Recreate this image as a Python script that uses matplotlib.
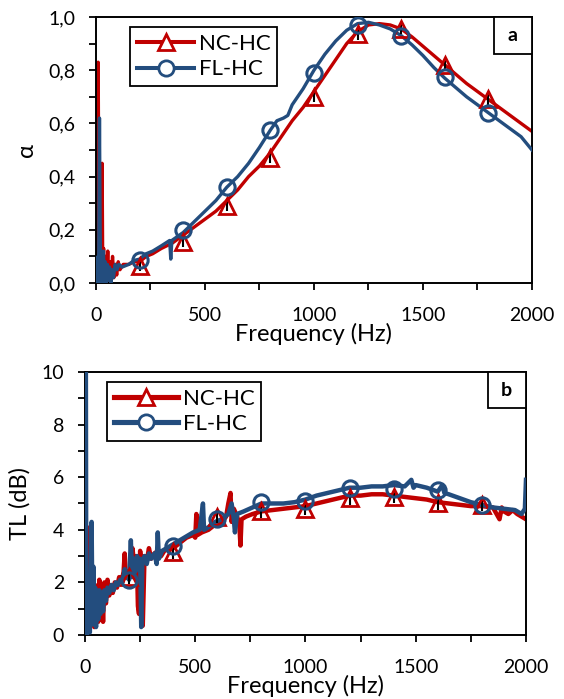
import matplotlib
matplotlib.use("Agg")
import matplotlib.pyplot as plt
from matplotlib.lines import Line2D
from matplotlib.patches import Rectangle
from matplotlib.ticker import MultipleLocator, FuncFormatter

plt.rcParams['font.family'] = ['Lato', 'DejaVu Sans']

ROJO = '#C00000'
AZUL = '#234D7E'

# --- (a) coeficiente de absorcion ---
f_nc_a = [0, 6, 10, 13, 16, 20, 24, 28, 31, 35, 39, 44, 49, 54, 59, 64, 70, 76, 82, 88,
          95, 102, 110, 125, 150, 175, 200, 230, 260, 300, 350, 400, 450, 500, 550, 600,
          650, 700, 750, 800, 850, 900, 950, 1000, 1050, 1100, 1150, 1200, 1250, 1300,
          1350, 1400, 1450, 1500, 1550, 1600, 1650, 1700, 1750, 1800, 1850, 1900, 1950, 2000]
alfa_nc = [0.0, 0.05, 0.83, 0.3, 0.0, 0.1, 0.02, 0.45, 0.05, 0.13, 0.0, 0.1, 0.02, 0.12, 0.0,
           0.08, 0.03, 0.1, 0.02, 0.07, 0.03, 0.08, 0.05, 0.07, 0.07, 0.08, 0.08, 0.1, 0.11,
           0.13, 0.15, 0.18, 0.21, 0.24, 0.27, 0.31, 0.35, 0.40, 0.44, 0.49, 0.55, 0.61,
           0.66, 0.72, 0.78, 0.84, 0.90, 0.945, 0.97, 0.975, 0.97, 0.955, 0.925, 0.89,
           0.855, 0.82, 0.785, 0.75, 0.72, 0.69, 0.66, 0.63, 0.60, 0.57]

f_fl_a = [0, 5, 9, 12, 16, 19, 22, 26, 30, 34, 38, 42, 47, 52, 57, 62, 68, 74, 80, 88, 96,
          105, 120, 150, 175, 200, 230, 260, 300, 338, 343, 348, 400, 450, 500, 550, 600,
          650, 700, 750, 800, 830, 860, 880, 900, 950, 1000, 1050, 1100, 1150, 1200, 1250,
          1300, 1350, 1400, 1450, 1500, 1550, 1600, 1650, 1700, 1750, 1800, 1850, 1900,
          1950, 2000]
alfa_fl = [0.05, 0.0, 0.1, 0.0, 0.62, 0.2, 0.0, 0.1, 0.0, 0.12, 0.02, 0.08, 0.0, 0.07, 0.01,
           0.06, 0.0, 0.05, 0.02, 0.07, 0.05, 0.07, 0.06, 0.07, 0.085, 0.09, 0.11, 0.12,
           0.14, 0.16, 0.09, 0.16, 0.19, 0.23, 0.27, 0.31, 0.36, 0.40, 0.45, 0.51, 0.575,
           0.61, 0.62, 0.63, 0.67, 0.73, 0.80, 0.86, 0.91, 0.95, 0.975, 0.98, 0.97, 0.955,
           0.93, 0.895, 0.855, 0.81, 0.77, 0.735, 0.70, 0.67, 0.64, 0.61, 0.58, 0.55, 0.50]

f_marc = [200, 400, 600, 800, 1000, 1200, 1400, 1600, 1800]
alfa_nc_marc = [0.065, 0.155, 0.29, 0.47, 0.70, 0.935, 0.955, 0.82, 0.69]
alfa_fl_marc = [0.085, 0.20, 0.36, 0.575, 0.79, 0.97, 0.93, 0.775, 0.64]
err_a = [0.02] * 9

# --- (b) perdida de transmision ---
f_nc_b = [0, 5, 10, 14, 18, 22, 26, 30, 34, 38, 42, 46, 50, 55, 60, 65, 70, 76, 82, 88, 95,
          102, 110, 118, 126, 135, 145, 155, 165, 175, 180, 185, 195, 205, 215, 225, 235,
          240, 245, 250, 255, 262, 270, 280, 290, 300, 315, 330, 345, 360, 380, 400, 430,
          460, 490, 500, 505, 510, 530, 560, 590, 620, 640, 650, 660, 665, 675, 690, 700,
          705, 710, 730, 760, 800, 850, 900, 950, 1000, 1050, 1100, 1150, 1200, 1250, 1300,
          1350, 1400, 1450, 1500, 1550, 1600, 1650, 1700, 1750, 1800, 1850, 1880, 1890,
          1900, 1920, 1940, 1960, 1980, 2000]
tl_nc = [0.0, 0.3, 1.5, 0.2, 2.0, 4.1, 0.4, 1.8, 0.5, 1.6, 0.3, 1.9, 0.6, 1.5, 0.5, 2.1, 0.9,
         1.8, 0.5, 2.0, 1.2, 2.1, 1.5, 1.9, 1.6, 2.0, 1.8, 2.2, 2.0, 2.4, 3.1, 2.2, 2.3, 2.5,
         3.3, 2.6, 3.0, 1.1, 0.8, 3.2, 2.8, 0.35, 3.0, 2.8, 3.3, 2.9, 3.1, 3.2, 3.0, 3.2, 3.3,
         3.3, 3.5, 3.7, 3.8, 3.7, 4.6, 3.8, 3.9, 4.0, 4.2, 4.3, 4.5, 5.0, 5.4, 4.3, 4.8, 4.5,
         4.2, 3.4, 4.4, 4.5, 4.6, 4.7, 4.75, 4.8, 4.85, 4.9, 5.0, 5.1, 5.2, 5.3, 5.3, 5.35,
         5.35, 5.3, 5.25, 5.2, 5.15, 5.05, 5.0, 4.95, 4.9, 4.9, 4.85, 4.4, 4.85, 4.7, 4.6,
         4.75, 4.6, 4.5, 4.4]

f_fl_b = [0, 4, 6, 10, 14, 18, 22, 26, 30, 34, 38, 42, 46, 50, 55, 60, 65, 70, 76, 82, 88,
          95, 102, 110, 120, 130, 140, 150, 160, 170, 180, 190, 200, 208, 214, 220, 228, 236,
          244, 250, 255, 260, 270, 280, 290, 300, 315, 325, 330, 335, 350, 370, 400, 430,
          460, 490, 520, 535, 540, 560, 590, 620, 650, 665, 675, 680, 690, 720, 760, 800,
          850, 900, 950, 1000, 1050, 1100, 1150, 1200, 1250, 1300, 1350, 1400, 1450, 1480,
          1490, 1500, 1550, 1600, 1620, 1630, 1650, 1700, 1750, 1800, 1850, 1900, 1950,
          1980, 1995, 2000]
tl_fl = [10.0, 10.0, 0.0, 2.0, 0.3, 1.5, 0.1, 2.5, 4.3, 0.4, 2.6, 0.5, 1.8, 0.3, 1.4, 0.6,
         1.7, 0.8, 1.5, 0.9, 1.7, 1.3, 1.8, 1.6, 1.9, 1.7, 2.0, 1.9, 2.1, 2.0, 2.5, 2.2, 2.1,
         3.6, 2.2, 2.9, 2.4, 3.0, 2.5, 2.9, 0.3, 2.8, 3.0, 2.7, 3.1, 2.9, 3.1, 2.7, 3.9, 2.9,
         3.2, 3.3, 3.45, 3.6, 3.75, 3.9, 4.0, 5.0, 4.0, 4.1, 4.3, 4.4, 4.6, 5.0, 4.4, 3.9,
         4.6, 4.7, 4.85, 5.0, 5.0, 5.0, 5.05, 5.15, 5.3, 5.4, 5.5, 5.6, 5.6, 5.65, 5.65, 5.7,
         5.65, 5.9, 5.6, 5.7, 5.6, 5.45, 5.7, 5.4, 5.35, 5.2, 5.05, 4.95, 4.85, 4.8, 4.75,
         4.6, 4.8, 5.9]

tl_nc_marc = [2.2, 3.15, 4.5, 4.7, 4.8, 5.2, 5.25, 5.0, 4.95]
tl_fl_marc = [2.1, 3.4, 4.4, 5.05, 5.1, 5.6, 5.55, 5.5, 4.95]
err_b = [0.25] * 9


def panel(ax, f1, y1, f2, y2, y1m, y2m, err, lw, etiqueta):
    ax.plot(f1, y1, color=ROJO, lw=lw, zorder=2)
    ax.plot(f2, y2, color=AZUL, lw=lw, zorder=3)
    ax.errorbar(f_marc, y1m, yerr=err, fmt='none', ecolor='black', elinewidth=1.5, zorder=4)
    ax.plot(f_marc, y1m, ls='none', marker='^', ms=11, mfc='none', mec=ROJO, mew=2, zorder=5)
    ax.plot(f_marc, y2m, ls='none', marker='o', ms=11, mfc='none', mec=AZUL, mew=2.2, zorder=5)

    ax.set_xlim(0, 2000)
    ax.xaxis.set_major_locator(MultipleLocator(500))
    ax.xaxis.set_minor_locator(MultipleLocator(250))
    ax.tick_params(which='both', direction='out', width=1.3, length=5, labelsize=14)
    ax.tick_params(axis='x', pad=12)
    ax.tick_params(axis='y', pad=10)
    for s in ax.spines.values():
        s.set_linewidth(1.4)
    ax.set_xlabel('Frequency (Hz)', fontsize=17, labelpad=-0.5)

    # recuadro con la letra del panel
    ax.add_patch(Rectangle((0.913, 0.862), 0.087, 0.138, transform=ax.transAxes,
                           fill=True, facecolor='white', edgecolor='black', lw=1.3,
                           zorder=6, clip_on=False))
    ax.text(0.956, 0.931, etiqueta, transform=ax.transAxes, ha='center', va='center',
            fontsize=14, fontweight='bold', zorder=7)

    handles = [Line2D([], [], color=ROJO, lw=lw + 0.5, marker='^', ms=11, mfc='white',
                      mec=ROJO, mew=2),
               Line2D([], [], color=AZUL, lw=lw + 0.5, marker='o', ms=11, mfc='white',
                      mec=AZUL, mew=2)]
    return handles


fig = plt.figure(figsize=(5.64, 6.99), dpi=100)
ax1 = fig.add_axes([0.1702, 0.5951, 0.7730, 0.3806])
ax2 = fig.add_axes([0.1507, 0.0916, 0.7819, 0.3762])

h1 = panel(ax1, f_nc_a, alfa_nc, f_fl_a, alfa_fl, alfa_nc_marc, alfa_fl_marc, err_a, 2.4, 'a')
ax1.set_ylim(0, 1.0)
ax1.yaxis.set_major_locator(MultipleLocator(0.2))
ax1.yaxis.set_minor_locator(MultipleLocator(0.1))
ax1.yaxis.set_major_formatter(FuncFormatter(lambda v, p: f'{v:.1f}'.replace('.', ',')))
ax1.set_ylabel('α', fontsize=17, labelpad=8)
leg1 = ax1.legend(h1, ['NC-HC', 'FL-HC'], loc='upper left', bbox_to_anchor=(0.078, 0.962),
                  borderaxespad=0, fontsize=16, handlelength=2.6, fancybox=False,
                  framealpha=1, edgecolor='black', borderpad=0.3, labelspacing=0.25,
                  handletextpad=0.2)
leg1.get_frame().set_linewidth(1.3)
leg1.set_zorder(8)

h2 = panel(ax2, f_nc_b, tl_nc, f_fl_b, tl_fl, tl_nc_marc, tl_fl_marc, err_b, 3.2, 'b')
ax2.set_ylim(0, 10)
ax2.yaxis.set_major_locator(MultipleLocator(2))
ax2.yaxis.set_minor_locator(MultipleLocator(1))
ax2.set_ylabel('TL (dB)', fontsize=17, labelpad=8)
leg2 = ax2.legend(h2, ['NC-HC', 'FL-HC'], loc='upper left', bbox_to_anchor=(0.05, 0.962),
                  borderaxespad=0, fontsize=16, handlelength=2.9, fancybox=False,
                  framealpha=1, edgecolor='black', borderpad=0.3, labelspacing=0.25,
                  handletextpad=0.2)
leg2.get_frame().set_linewidth(1.3)
leg2.set_zorder(8)

fig.savefig('out.png', dpi=100)
